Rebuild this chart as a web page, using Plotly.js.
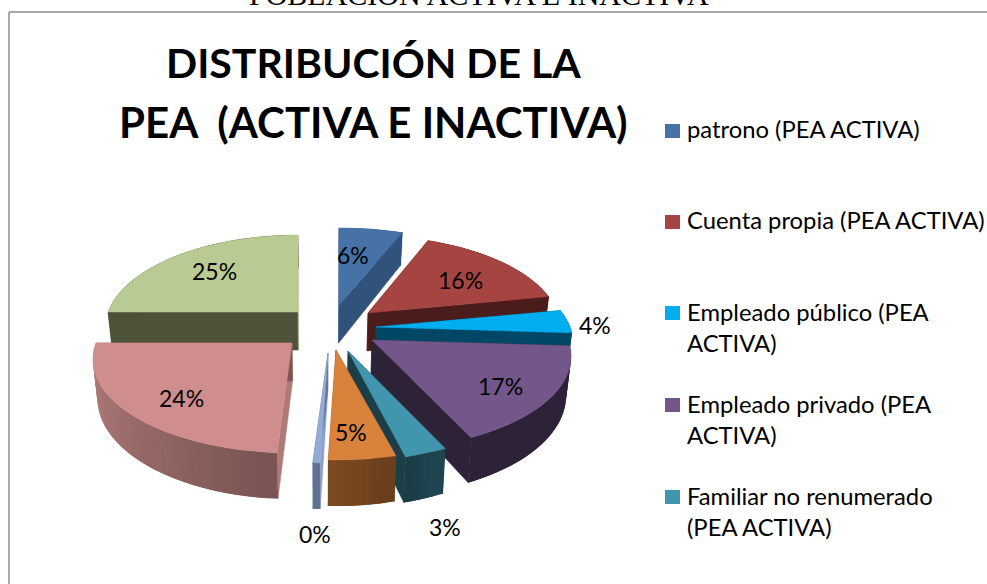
<!DOCTYPE html>
<html><head><meta charset="utf-8">
<script src="https://cdn.plot.ly/plotly-3.0.1.min.js"></script>
<style>html,body{margin:0;padding:0;background:#fff;overflow:hidden}</style></head>
<body><div id="chart" style="width:987px;height:584px"></div>
<script>
// ---- data ----
const sliceNames = ["patrono (PEA ACTIVA)","Cuenta propia (PEA ACTIVA)","Empleado público (PEA ACTIVA)","Empleado privado (PEA ACTIVA)","Familiar no renumerado (PEA ACTIVA)","Otra categoría 1","Otra categoría 2","PEA inactiva 1","PEA inactiva 2"];
const shares = [6,16,4,17,3,4.5,0.49,24,25];
const legendLabels = ["patrono (PEA ACTIVA)","Cuenta propia (PEA ACTIVA)","Empleado público (PEA<br>ACTIVA)","Empleado privado (PEA<br>ACTIVA)","Familiar no renumerado<br>(PEA ACTIVA)"];
const titleLines = ["DISTRIBUCIÓN DE LA","PEA  (ACTIVA E INACTIVA)"];
const pageHeading = "POBLACIÓN ACTIVA E INACTIVA";

// ---- styling / layout ----
const topColors  = ["#4672A8","#A54440","#00AEEF","#73578A","#4196AE","#D9823C","#95ABD6","#CF8E8D","#B9CB92"];
const startWall  = ["#31527A","#4A1C1B","#004766","#2D2238","#1C3E49","#6F431E","#8AA0C8","#AD7A78","#4D5239"];
const endWall    = ["#31527A","#4A1C1B","#004766","#2D2238","#1C3E49","#6F431E","#5E7391","#7D5755","#A4B47F"];
const outerStart = ["#31527A","#4A1C1B","#004766","#2D2238","#1E4450","#6B3F1C","#5E7391","#7B5553","#4D5239"];
const outerEnd   = ["#31527A","#4A1C1B","#004766","#2D2238","#1A3A44","#7F4C22","#5E7391","#BA8482","#4D5239"];
const apexX  = [339,368,376,372,348,336,328,292,298];
const apexY  = [305,313,327,340,351,350,353,343,312];
const scaleX = [1,0.95,0.97,0.98,0.96,1,1,0.98,0.95];
const labelX = [353,460,595,500,445,351,315,181,214];
const labelY = [255,280,325,386,527,432,534,398,271];
const legendY = [129,220,327,419,511];
const swatchY = [131,222,313,405,497];
const titleY = [62,122];
const titleSize = [41,42];
const R=200, RY=90.6, P=0.176, H=38, CX=320;

const traces=[], shapes=[];
const total = shares.reduce((a,b)=>a+b,0);
let cum=0;
const ranges = shares.map(v=>{const a=cum/total*2*Math.PI; cum+=v; return [a,cum/total*2*Math.PI];});

function topPt(i,t){
  const d=Math.cos(t), s=1/(1+P*d);
  return {x:apexX[i]+scaleX[i]*R*Math.sin(t)*s, y:apexY[i]-RY*d*s, s};
}
function botPt(p){ return {x:CX+(p.x-CX)*0.98, y:p.y+H*p.s}; }
function poly(pts,color,w){
  traces.push({type:'scatter',mode:'lines',x:pts.map(p=>p.x).concat(pts[0].x),y:pts.map(p=>p.y).concat(pts[0].y),
    fill:'toself',fillcolor:color,line:{color:color,width:w},hoverinfo:'skip',showlegend:false});
}
function hex(c){return [1,3,5].map(k=>parseInt(c.substr(k,2),16));}
function mix(a,b,f){const A=hex(a),B=hex(b);return 'rgb('+A.map((v,k)=>Math.round(v+(B[k]-v)*f)).join(',')+')';}

const order=[8,0,1,2,3,4,5,6,7];
order.forEach(i=>{
  const [a0,a1]=ranges[i];
  const apex={x:apexX[i],y:apexY[i],s:1};
  const apexB=botPt(apex);
  const n=Math.max(4,Math.ceil((a1-a0)/0.04));
  const arc=[];
  for(let k=0;k<=n;k++) arc.push(topPt(i,a0+(a1-a0)*k/n));
  poly([apex,arc[0],botPt(arc[0]),apexB],startWall[i],0.5);
  poly([apex,arc[n],botPt(arc[n]),apexB],endWall[i],0.5);
  // outer curved wall, painted end-to-start so every step overlaps the next
  for(let k=n-1;k>=0;k--){
    const seg=arc.slice(k,Math.min(k+3,n+1));
    poly(seg.concat(seg.slice().reverse().map(botPt)),mix(outerStart[i],outerEnd[i],k/(n-1)),0);
  }
  poly([apex].concat(arc),topColors[i],0.5);
});

const ann=[];
shares.forEach((v,i)=>ann.push({x:labelX[i],y:labelY[i],xref:'x',yref:'y',showarrow:false,
  text:Math.round(v/total*100)+'%',font:{family:'Lato',size:23,color:'#000'}}));
legendLabels.forEach((t,i)=>{
  ann.push({x:685,y:legendY[i],xref:'x',yref:'y',xanchor:'left',align:'left',showarrow:false,text:t,
    font:{family:'Lato',size:23.8,color:'#000'}});
  shapes.push({type:'rect',xref:'x',yref:'y',x0:665,x1:680,y0:swatchY[i]-7,y1:swatchY[i]+7,fillcolor:topColors[i],line:{width:0}});
});
titleLines.forEach((t,i)=>ann.push({x:373,y:titleY[i],xref:'x',yref:'y',showarrow:false,text:'<b>'+t+'</b>',
  font:{family:'Lato',size:titleSize[i],color:'#000'}}));
ann.push({x:479,y:1,xref:'x',yref:'paper',yanchor:'middle',yshift:6,showarrow:false,text:pageHeading,
  font:{family:'Liberation Serif',size:30,color:'#000'}});
shapes.push({type:'line',xref:'x',yref:'y',x0:9,x1:987,y0:12,y1:12,line:{color:'#8C8C8C',width:1.5}});
shapes.push({type:'line',xref:'x',yref:'y',x0:9,x1:9,y0:12,y1:584,line:{color:'#8C8C8C',width:1.5}});

Plotly.newPlot('chart',traces,{
  width:987,height:584,margin:{l:0,r:0,t:0,b:0},showlegend:false,
  paper_bgcolor:'#fff',plot_bgcolor:'#fff',
  xaxis:{range:[0,987],visible:false,fixedrange:true},
  yaxis:{range:[584,0],visible:false,fixedrange:true},
  annotations:ann,shapes:shapes
},{displayModeBar:false,staticPlot:true});
</script></body></html>
